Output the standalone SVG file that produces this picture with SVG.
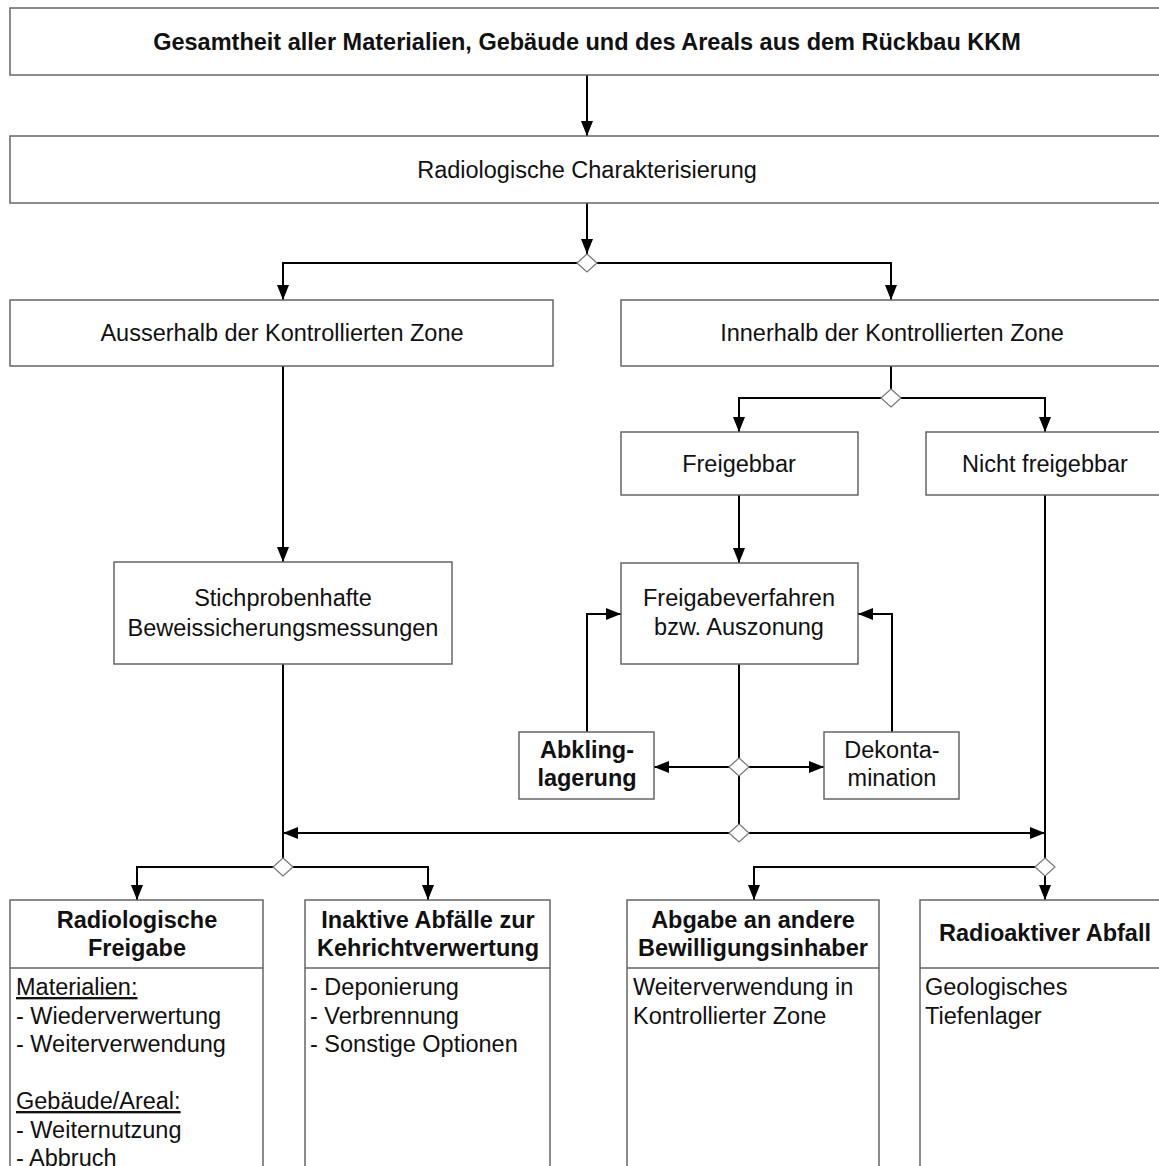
<svg xmlns="http://www.w3.org/2000/svg" width="1159" height="1166" viewBox="0 0 1159 1166">
<style>
.box{fill:#fff;stroke:#666;stroke-width:1.5}
.sep{stroke:#666;stroke-width:1.5}
.t{font-family:"Liberation Sans",Arial,sans-serif;font-size:23.5px;fill:#111}
.c{text-anchor:middle}
.b{font-weight:bold}
.u{text-decoration:underline}
.con{fill:none;stroke:#000;stroke-width:2}
.dia{fill:#fff;stroke:#777;stroke-width:1.2}
</style>
<defs>
<marker id="ah" markerUnits="userSpaceOnUse" markerWidth="15" markerHeight="12" refX="15" refY="6" orient="auto">
<path d="M0,0 L15,6 L0,12 z" fill="#000"/>
</marker>
</defs>
<rect width="1159" height="1166" fill="#fff"/>

<g id="connectors">
<path class="con" d="M587,75 V136" marker-end="url(#ah)"/>
<path class="con" d="M587,203 V254" marker-end="url(#ah)"/>
<path class="con" d="M577,263 H283 V300" marker-end="url(#ah)"/>
<path class="con" d="M597,263 H891 V300" marker-end="url(#ah)"/>
<path class="con" d="M283,366 V562" marker-end="url(#ah)"/>
<path class="con" d="M891,366 V389"/>
<path class="con" d="M881,398 H739 V432" marker-end="url(#ah)"/>
<path class="con" d="M901,398 H1045 V432" marker-end="url(#ah)"/>
<path class="con" d="M739,495 V563" marker-end="url(#ah)"/>
<path class="con" d="M739,664 V758"/>
<path class="con" d="M729,767 H654" marker-end="url(#ah)"/>
<path class="con" d="M749,767 H824" marker-end="url(#ah)"/>
<path class="con" d="M739,776 V824"/>
<path class="con" d="M587,732 V614 H621" marker-end="url(#ah)"/>
<path class="con" d="M892,732 V614 H858" marker-end="url(#ah)"/>
<path class="con" d="M729,833 H283" marker-end="url(#ah)"/>
<path class="con" d="M749,833 H1045" marker-end="url(#ah)"/>
<path class="con" d="M283,664 V858"/>
<path class="con" d="M273,867 H137 V900" marker-end="url(#ah)"/>
<path class="con" d="M293,867 H428 V900" marker-end="url(#ah)"/>
<path class="con" d="M1045,495 V858"/>
<path class="con" d="M1035,867 H754 V900" marker-end="url(#ah)"/>
<path class="con" d="M1045,876 V900" marker-end="url(#ah)"/>
<polygon class="dia" points="587,254 597,263 587,272 577,263"/>
<polygon class="dia" points="891,389 901,398 891,407 881,398"/>
<polygon class="dia" points="739,758 749,767 739,776 729,767"/>
<polygon class="dia" points="739,824 749,833 739,842 729,833"/>
<polygon class="dia" points="283,858 293,867 283,876 273,867"/>
<polygon class="dia" points="1045,858 1055,867 1045,876 1035,867"/>
</g>

<g id="n-gesamt">
<rect class="box" x="10" y="8" width="1160" height="67"/>
<text class="t c b" x="587" y="50">Gesamtheit aller Materialien, Gebäude und des Areals aus dem Rückbau KKM</text>
</g>
<g id="n-charakterisierung">
<rect class="box" x="10" y="136" width="1160" height="67"/>
<text class="t c" x="587" y="178">Radiologische Charakterisierung</text>
</g>
<g id="n-ausserhalb">
<rect class="box" x="10" y="300" width="543" height="66"/>
<text class="t c" x="282" y="341">Ausserhalb der Kontrollierten Zone</text>
</g>
<g id="n-innerhalb">
<rect class="box" x="621" y="300" width="549" height="66"/>
<text class="t c" x="892" y="341">Innerhalb der Kontrollierten Zone</text>
</g>
<g id="n-freigebbar">
<rect class="box" x="621" y="432" width="237" height="63"/>
<text class="t c" x="739" y="472">Freigebbar</text>
</g>
<g id="n-nichtfreigebbar">
<rect class="box" x="926" y="432" width="244" height="63"/>
<text class="t c" x="1045" y="472">Nicht freigebbar</text>
</g>
<g id="n-stichproben">
<rect class="box" x="114" y="562" width="338" height="102"/>
<text class="t c" x="283" y="606">Stichprobenhafte</text>
<text class="t c" x="283" y="636">Beweissicherungsmessungen</text>
</g>
<g id="n-freigabeverfahren">
<rect class="box" x="621" y="563" width="237" height="101"/>
<text class="t c" x="739" y="606">Freigabeverfahren</text>
<text class="t c" x="739" y="635">bzw. Auszonung</text>
</g>
<g id="n-abkling">
<rect class="box" x="519" y="732" width="135" height="67"/>
<text class="t c b" x="587" y="758">Abkling-</text>
<text class="t c b" x="587" y="786">lagerung</text>
</g>
<g id="n-dekonta">
<rect class="box" x="824" y="732" width="135" height="67"/>
<text class="t c" x="892" y="758">Dekonta-</text>
<text class="t c" x="892" y="786">mination</text>
</g>
<g id="n-freigabe">
<rect class="box" x="10" y="900" width="253" height="280"/>
<line class="sep" x1="10" y1="968" x2="263" y2="968"/>
<text class="t c b" x="137" y="928">Radiologische</text>
<text class="t c b" x="137" y="956">Freigabe</text>
<text class="t u" x="16" y="995">Materialien:</text>
<text class="t" x="16" y="1023.5">- Wiederverwertung</text>
<text class="t" x="16" y="1052">- Weiterverwendung</text>
<text class="t u" x="16" y="1109">Gebäude/Areal:</text>
<text class="t" x="16" y="1137.5">- Weiternutzung</text>
<text class="t" x="16" y="1166">- Abbruch</text>
</g>
<g id="n-inaktive">
<rect class="box" x="305" y="900" width="245" height="280"/>
<line class="sep" x1="305" y1="968" x2="550" y2="968"/>
<text class="t c b" x="428" y="928">Inaktive Abfälle zur</text>
<text class="t c b" x="428" y="956">Kehrichtverwertung</text>
<text class="t" x="310" y="995">- Deponierung</text>
<text class="t" x="310" y="1023.5">- Verbrennung</text>
<text class="t" x="310" y="1052">- Sonstige Optionen</text>
</g>
<g id="n-abgabe">
<rect class="box" x="627" y="900" width="252" height="280"/>
<line class="sep" x1="627" y1="968" x2="879" y2="968"/>
<text class="t c b" x="753" y="928">Abgabe an andere</text>
<text class="t c b" x="753" y="956">Bewilligungsinhaber</text>
<text class="t" x="633" y="995">Weiterverwendung in</text>
<text class="t" x="633" y="1023.5">Kontrollierter Zone</text>
</g>
<g id="n-radioaktiv">
<rect class="box" x="920" y="900" width="250" height="280"/>
<line class="sep" x1="920" y1="968" x2="1170" y2="968"/>
<text class="t c b" x="1045" y="941">Radioaktiver Abfall</text>
<text class="t" x="925" y="995">Geologisches</text>
<text class="t" x="925" y="1023.5">Tiefenlager</text>
</g>
</svg>
